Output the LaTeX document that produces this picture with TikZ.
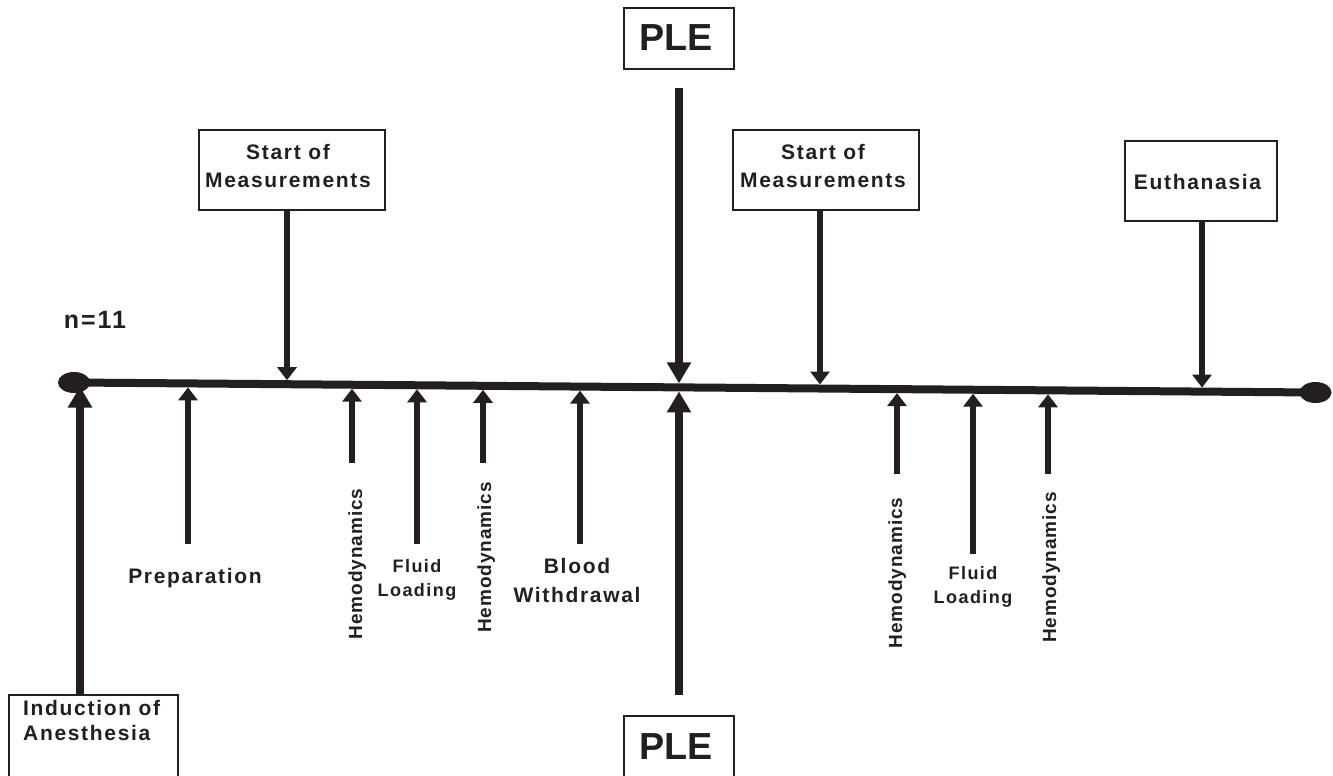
\documentclass[tikz,border=0pt]{standalone}
\usepackage{fontspec}
\setmainfont{Liberation Sans}
\newfontfamily\lblfont[LetterSpace=8]{Liberation Sans}
\newfontfamily\vfont[LetterSpace=5]{Liberation Sans}
\newfontfamily\plefont{Liberation Sans}
\usetikzlibrary{arrows.meta,shapes.geometric}
\definecolor{ink}{HTML}{231F20}
\newcommand\lblsz[2]{\lblfont\bfseries\fontsize{#1}{#2}\selectfont}
\begin{document}
\begin{tikzpicture}[x=1pt,y=-1pt,
  boxn/.style={draw=ink, line width=1.2pt, inner sep=0pt},
  lbl/.style={text=ink, inner sep=0pt, align=center, font={\lblsz{21}{28}}},
  small/.style={text=ink, inner sep=0pt, align=center, font={\lblsz{18}{24}}},
  vlbl/.style={text=ink, inner sep=0pt, rotate=90, anchor=base, font={\vfont\bfseries\fontsize{19}{24}\selectfont}},
  plelbl/.style={text=ink, inner sep=0pt, anchor=base, font={\plefont\bfseries\fontsize{37.7}{40}\selectfont}},
  thinarr/.style={draw=ink, line width=6.5pt, -{Triangle[width=19pt,length=13pt]}},
  bigarr/.style={draw=ink, line width=8pt, -{Triangle[width=23pt,length=21pt]}},
  dot/.style={ellipse, fill=ink, minimum width=32pt, minimum height=21pt, inner sep=0pt}
]
\useasboundingbox (0,0) rectangle (1333,776);
\fill[white] (0,0) rectangle (1333,776);

% timeline
\node[dot] (L) at (74,382.5) {};
\node[dot] (R) at (1315.5,392.5) {};
\draw[ink, line width=8pt] (L.center) -- (R.center);

% head coordinates on the line
\coordinate (hInd)  at (80,386.5);
\coordinate (hPrep) at (188,387.4);
\coordinate (hSm1)  at (287,380.2);
\coordinate (hHe1)  at (352,388.7);
\coordinate (hFl1)  at (417,389.3);
\coordinate (hHe2)  at (483,389.8);
\coordinate (hBl)   at (580,390.6);
\coordinate (hPleT) at (679,383.4);
\coordinate (hPleB) at (679,391.4);
\coordinate (hSm2)  at (820,384.5);
\coordinate (hHe3)  at (897,393.1);
\coordinate (hFl2)  at (973,393.7);
\coordinate (hHe4)  at (1048,394.3);
\coordinate (hEu)   at (1202,387.6);

% tails
\coordinate (tPrep) at (188,544);
\coordinate (tHe1)  at (352,463);
\coordinate (tFl1)  at (417,544);
\coordinate (tHe2)  at (483,463);
\coordinate (tBl)   at (580,544);
\coordinate (tPleT) at (679,88);
\coordinate (tPleB) at (679,695);
\coordinate (tHe3)  at (897,474);
\coordinate (tFl2)  at (973,554);
\coordinate (tHe4)  at (1048,474);

% boxes
\node[boxn, minimum width=186pt, minimum height=80pt] (sm1) at (292,170) {};
\node[boxn, minimum width=186pt, minimum height=80pt] (sm2) at (826,170) {};
\node[boxn, minimum width=152pt, minimum height=80pt] (eu) at (1201,181) {};
\node[boxn, minimum width=110pt, minimum height=61pt] (pleT) at (679,38.5) {};
\node[boxn, minimum width=110pt, minimum height=80pt] (pleB) at (679,756) {};
\node[boxn, minimum width=169pt, minimum height=105pt] (ind) at (93.5,747.5) {};

% labels
\node[lbl, anchor=base, font={\lblsz{25}{30}}] (lN) at (95,328) {n=11};
\node[lbl, anchor=base] (lSm1) at (288,187) {Start of\\Measurements};
\node[lbl, anchor=base] (lSm2) at (823,187) {Start of\\Measurements};
\node[lbl, anchor=base] (lEu) at (1197.5,189) {Euthanasia};
\node[plelbl] (lPleT) at (676,51) {PLE};
\node[plelbl] (lPleB) at (676,759) {PLE};
\node[lbl, anchor=base west, align=left, font={\lblsz{21}{25}}] (lInd) at (23,740) {Induction of\\Anesthesia};
\node[lbl, anchor=base] (lPrep) at (195,583) {Preparation};
\node[small, anchor=base] (lFl1) at (417,596) {Fluid\\Loading};
\node[small, anchor=base] (lFl2) at (973,603) {Fluid\\Loading};
\node[lbl, anchor=base, font={\lblsz{21}{29}}] (lBl) at (577,602) {Blood\\Withdrawal};
\node[vlbl] (lHe1) at (362,564) {Hemodynamics};
\node[vlbl] (lHe2) at (491,557.5) {Hemodynamics};
\node[vlbl] (lHe3) at (902,573) {Hemodynamics};
\node[vlbl] (lHe4) at (1056,567.5) {Hemodynamics};

% arrows
\draw[bigarr] (ind.north -| hInd) -- (hInd);
\draw[bigarr] (tPleT) -- (hPleT);
\draw[bigarr] (tPleB) -- (hPleB);
\draw[thinarr] (tPrep) -- (hPrep);
\draw[thinarr] (sm1.south -| hSm1) -- (hSm1);
\draw[thinarr] (tHe1) -- (hHe1);
\draw[thinarr] (tFl1) -- (hFl1);
\draw[thinarr] (tHe2) -- (hHe2);
\draw[thinarr] (tBl) -- (hBl);
\draw[thinarr] (sm2.south -| hSm2) -- (hSm2);
\draw[thinarr] (tHe3) -- (hHe3);
\draw[thinarr] (tFl2) -- (hFl2);
\draw[thinarr] (tHe4) -- (hHe4);
\draw[thinarr] (eu.south -| hEu) -- (hEu);
\end{tikzpicture}
\end{document}
